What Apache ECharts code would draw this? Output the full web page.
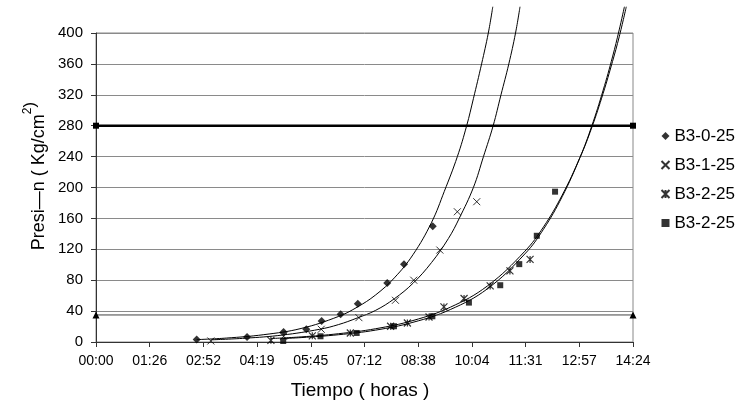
<!DOCTYPE html>
<html>
<head>
<meta charset="utf-8">
<script src="https://cdn.jsdelivr.net/npm/echarts@6/dist/echarts.min.js"></script>
<style>
html,body{margin:0;padding:0;background:#fff;}
#c{width:737px;height:409px;}
</style>
</head>
<body>
<div id="c"></div>
<script>
// x values are hours (axis shows hh:mm), y values are Kg/cm2
const xTickLabels = ['00:00','01:26','02:52','04:19','05:45','07:12','08:38','10:04','11:31','12:57','14:24'];
const seriesNames = ['B3-0-25','B3-1-25','B3-2-25','B3-2-25 '];

const b3_0_25 = [[2.70,3.1],[4.05,6.5],[5.03,13],[5.64,16.5],[6.05,27.2],[6.56,36],[7.02,49.5],[7.81,76.5],[8.26,100.8],[9.03,150]];
const b3_1_25 = [[3.08,1.3],[5.03,7.4],[6.04,16.5],[7.05,31.5],[8.03,54],[8.52,80],[9.22,119],[9.69,168.6],[10.21,181.6]];
const b3_2_25a = [[4.69,2.2],[5.80,8],[6.82,11.7],[7.90,20.4],[8.35,24.6],[8.93,32.4],[9.33,45.4],[9.87,56.3],[10.57,72.6],[11.10,92],[11.64,106.9]];
const b3_2_25b = [[5.02,1.3],[6.02,7.4],[6.99,11.7],[7.99,20.4],[9.02,33.3],[10.0,51],[10.84,73.5],[11.35,100.8],[11.82,137.5],[12.31,194.6]];

// trend curves
const trend0 = [[2.70,3.1],[3.5,5.1],[4.5,9.5],[5.5,17.5],[6.5,33],[7.0,45],[7.5,61],[8.0,83],[8.5,113],[9.0,155],[9.34,195],[9.69,240],[9.94,280],[10.12,315],[10.34,360],[10.52,400],[10.64,434]];
const trend1 = [[3.08,2.8],[4.0,4.9],[5.0,9],[6.0,16.5],[6.5,22.5],[7.0,31],[7.5,41],[8.0,56],[8.5,76],[9.0,103],[9.45,134],[9.74,160],[10.12,200],[10.39,240],[10.65,280],[10.86,320],[11.07,360],[11.25,400],[11.37,434]];
const trend2 = [[4.69,4.5],[5.5,6.6],[6.5,10.7],[7.5,17.2],[8.5,27.8],[9.5,45],[10.5,72.7],[11.5,117.5],[12.0,149],[12.5,190],[12.98,239],[13.29,277],[13.6,322],[13.85,363],[14.03,395],[14.22,434]];
const trend3 = [[5.02,4.5],[5.5,5.7],[6.5,9.4],[7.5,15.4],[8.5,25.5],[9.5,42],[10.5,69],[11.5,114],[12.0,146],[12.5,188],[12.98,239],[13.29,279],[13.6,326],[13.85,369],[14.03,404],[14.17,434]];

const limitHigh = [[0,280],[14.4,280]];
const limitLow = [[0,35],[14.4,35]];

const FONT = 'Liberation Sans, Arial, sans-serif';
const X_PATH = 'path://M0,0L10,10M10,0L0,10';
const AST_PATH = 'path://M0,0L10,10M10,0L0,10M5,0L5,10';

const chart = echarts.init(document.getElementById('c'), null, {renderer:'canvas'});

function trend(data){
  return {type:'line', data:data, showSymbol:false, symbol:'none', smooth:0.4, clip:false,
    lineStyle:{color:'#000', width:1}, silent:true, z:2, legendHoverLink:false, tooltip:{show:false}};
}

chart.setOption({
  animation:false,
  backgroundColor:'#fff',
  textStyle:{fontFamily:FONT, color:'#000'},
  grid:{left:96, right:104, top:33, bottom:67, show:true, borderColor:'#888', borderWidth:1},
  legend:{
    data:seriesNames, orient:'vertical', left:654, top:122,
    itemWidth:8, itemHeight:8, itemGap:11,
    textStyle:{fontFamily:FONT, fontSize:17, color:'#000', lineHeight:18},
    formatter:function(n){return n.trim();},
    selectedMode:false
  },
  xAxis:{
    type:'value', min:0, max:14.4, interval:1.44,
    axisLine:{show:true, lineStyle:{color:'#333', width:1}},
    axisTick:{show:true, inside:false, length:5, lineStyle:{color:'#333'}},
    splitLine:{show:false},
    axisLabel:{fontFamily:FONT, fontSize:14, color:'#000', margin:12,
      formatter:function(v){return xTickLabels[Math.round(v/1.44)];}}
  },
  yAxis:{
    type:'value', min:0, max:400, interval:40,
    axisLine:{show:true, lineStyle:{color:'#333', width:1}},
    axisTick:{show:true, inside:false, length:5, lineStyle:{color:'#333'}},
    splitLine:{show:true, lineStyle:{color:'#8a8a8a', width:1}},
    axisLabel:{fontFamily:FONT, fontSize:15, color:'#000', margin:13}
  },
  graphic:[
    {type:'text', x:360, y:391, z:10,
      style:{text:'Tiempo ( horas )', font:'19px '+FONT, fill:'#000', textAlign:'center', textVerticalAlign:'middle'}},
    {type:'text', x:35, y:176, rotation:Math.PI/2, z:10,
      style:{text:'{n|Presi—n ( Kg/cm}{s|2}{p|)}', textAlign:'center', textVerticalAlign:'middle', fill:'#000',
        rich:{
          n:{fontFamily:FONT, fontSize:18, lineHeight:26, verticalAlign:'bottom', fill:'#000'},
          s:{fontFamily:FONT, fontSize:12, lineHeight:14, verticalAlign:'top', fill:'#000'},
          p:{fontFamily:FONT, fontSize:17, lineHeight:18, verticalAlign:'top', fill:'#000'}
        }}}
  ],
  series:[
    {type:'line', data:limitHigh, symbol:'rect', symbolSize:6, showSymbol:true, clip:false,
      lineStyle:{color:'#000', width:2.5}, itemStyle:{color:'#000'}, z:3, silent:true},
    {type:'line', data:limitLow, symbol:'triangle', symbolSize:7, showSymbol:true, clip:false,
      lineStyle:{color:'#444', width:1}, itemStyle:{color:'#000'}, z:3, silent:true},
    trend(trend0), trend(trend1), trend(trend2), trend(trend3),
    {name:seriesNames[0], type:'scatter', data:b3_0_25, symbol:'diamond', symbolSize:8,
      itemStyle:{color:'#000'}, z:5},
    {name:seriesNames[1], type:'scatter', data:b3_1_25, symbol:X_PATH, symbolSize:7,
      itemStyle:{color:'none', borderColor:'#000', borderWidth:1}, z:5},
    {name:seriesNames[2], type:'scatter', data:b3_2_25a, symbol:AST_PATH, symbolSize:7,
      itemStyle:{color:'none', borderColor:'#000', borderWidth:1.2}, z:5},
    {name:seriesNames[3], type:'scatter', data:b3_2_25b, symbol:'rect', symbolSize:6,
      itemStyle:{color:'#000'}, z:5}
  ]
});
</script>
</body>
</html>
